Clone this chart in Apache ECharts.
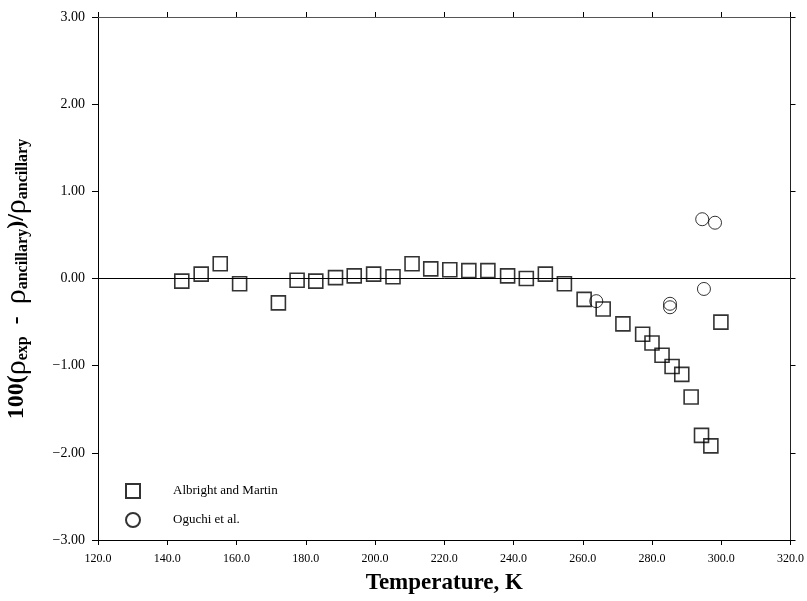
<!DOCTYPE html>
<html>
<head>
<meta charset="utf-8">
<script src="https://cdn.jsdelivr.net/npm/echarts@6/dist/echarts.min.js"></script>
<style>
  html, body { margin: 0; padding: 0; background: #fff; }
  #chart { width: 807px; height: 601px; }
</style>
</head>
<body>
<div id="chart"></div>
<script>
// Albright and Martin
const albrightT = [144.2, 149.8, 155.3, 160.9, 172.1, 177.5, 182.9, 188.6, 194.0, 199.6, 205.2, 210.7,
  216.1, 221.6, 227.1, 232.6, 238.3, 243.7, 249.2, 254.7, 260.4, 265.9, 271.6, 277.3, 280.0, 282.9,
  285.8, 288.6, 291.3, 294.3, 297.0, 299.9]
const albrightDev = [-0.03, 0.05, 0.17, -0.06, -0.28, -0.02, -0.03, 0.01, 0.03, 0.05, 0.02, 0.17,
  0.11, 0.10, 0.09, 0.09, 0.03, 0.00, 0.05, -0.06, -0.24, -0.35, -0.52, -0.64, -0.74, -0.88,
  -1.01, -1.10, -1.36, -1.80, -1.92, -0.50]
// Oguchi et al.
const oguchiT = [263.9, 285.2, 285.2, 294.5, 295.0, 298.2]
const oguchiDev = [-0.26, -0.29, -0.33, 0.68, -0.12, 0.64]

const xMin = 120, xMax = 320, xStep = 20
const yMin = -3, yMax = 3, yStep = 1

const serif = '"Liberation Serif", "DejaVu Serif", serif'
const zip = (a, b) => a.map((v, i) => [v, b[i]])

const chart = echarts.init(document.getElementById('chart'))

function axisStyle (lineColor, tickLen) {
  return {
    axisLine: { show: true, onZero: false, lineStyle: { color: lineColor, width: 1 } },
    axisTick: { show: true, inside: false, length: tickLen, lineStyle: { color: '#000', width: 1 } },
    splitLine: { show: false }
  }
}

chart.setOption({
  animation: false,
  backgroundColor: '#fff',
  grid: { left: 98, right: 14, top: 17, bottom: 61, containLabel: false },
  legend: {
    orient: 'vertical',
    left: 120,
    top: 478,
    itemGap: 13,
    itemWidth: 14,
    itemHeight: 14,
    textStyle: { fontFamily: serif, fontSize: 13, color: '#000', padding: [0, 0, 0, 28] },
    data: [
      { name: 'Albright and Martin', icon: 'rect' },
      { name: 'Oguchi et al.', icon: 'circle' }
    ]
  },
  xAxis: [
    Object.assign({
      type: 'value', min: xMin, max: xMax, interval: xStep, position: 'bottom',
      axisLabel: { fontFamily: serif, fontSize: 12, color: '#000', margin: 13, formatter: v => v.toFixed(1) },
      name: 'Temperature, K', nameLocation: 'middle', nameGap: 32,
      nameTextStyle: { fontFamily: serif, fontSize: 23, fontWeight: 'bold', color: '#000' }
    }, axisStyle('#000', 5)),
    Object.assign({
      type: 'value', min: xMin, max: xMax, interval: xStep, position: 'top',
      axisLabel: { show: false }
    }, axisStyle('#555', 5))
  ],
  yAxis: [
    Object.assign({
      type: 'value', min: yMin, max: yMax, interval: yStep, position: 'left',
      axisLabel: { fontFamily: serif, fontSize: 14, color: '#000', margin: 13,
        formatter: v => v.toFixed(2).replace('-', '\u2212') }
    }, axisStyle('#000', 6)),
    Object.assign({
      type: 'value', min: yMin, max: yMax, interval: yStep, position: 'right',
      axisLabel: { show: false }
    }, axisStyle('#222', 5))
  ],
  graphic: [{
    type: 'text',
    x: 17,
    y: 279,
    rotation: Math.PI / 2,
    style: {
      text: '{b|100(}{r|ρ}{s|exp}{b|  -  }{r|ρ}{s|ancillary}{b|)/}{r|ρ}{s|ancillary}',
      align: 'center',
      verticalAlign: 'middle',
      fontFamily: serif,
      fontSize: 24,
      fontWeight: 'bold',
      fill: '#000',
      rich: {
        b: { fontFamily: serif, fontSize: 24, fontWeight: 'bold', fill: '#000', lineHeight: 28 },
        r: { fontFamily: serif, fontSize: 30, fontWeight: 'normal', fill: '#000', lineHeight: 28 },
        s: { fontFamily: serif, fontSize: 16, fontWeight: 'bold', fill: '#000', lineHeight: 16, verticalAlign: 'bottom' }
      }
    }
  }],
  series: [
    {
      name: 'Albright and Martin',
      type: 'scatter',
      data: zip(albrightT, albrightDev),
      symbol: 'rect',
      symbolSize: 14,
      itemStyle: { color: 'rgba(255,255,255,0)', borderColor: '#000', borderWidth: 1.6 },
      markLine: {
        silent: true,
        symbol: 'none',
        label: { show: false },
        lineStyle: { color: '#000', width: 1, type: 'solid' },
        data: [{ yAxis: 0 }]
      },
      z: 3
    },
    {
      name: 'Oguchi et al.',
      type: 'scatter',
      data: zip(oguchiT, oguchiDev),
      symbol: 'circle',
      symbolSize: 13,
      itemStyle: { color: 'rgba(255,255,255,0)', borderColor: '#000', borderWidth: 1 },
      z: 2
    }
  ]
})
</script>
</body>
</html>
